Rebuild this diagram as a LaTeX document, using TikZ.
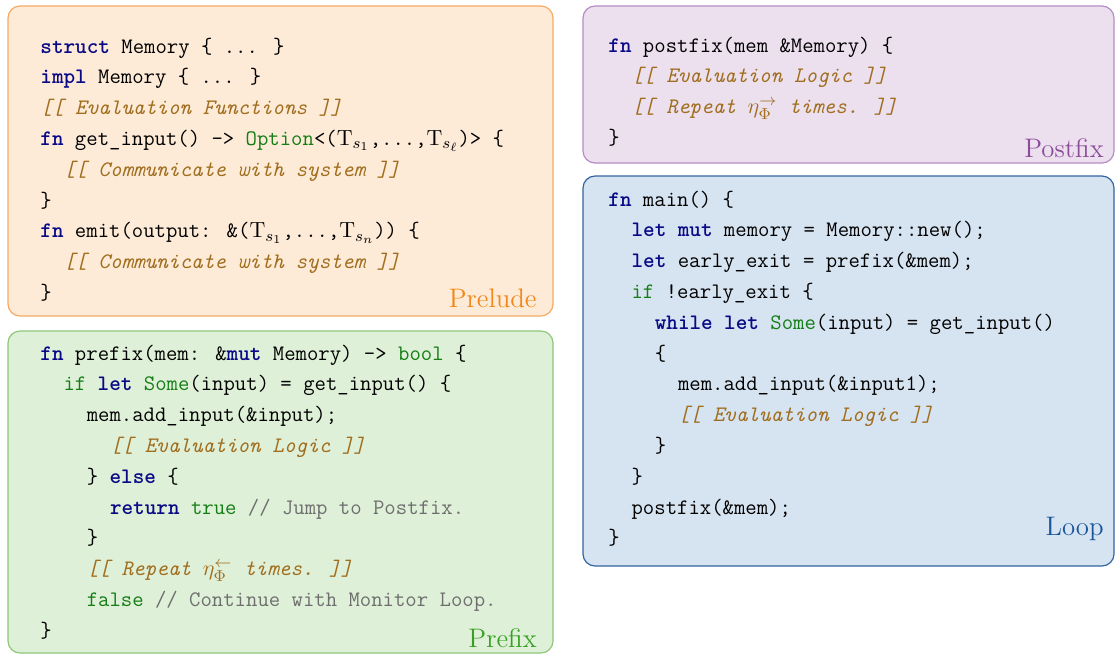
\documentclass[tikz,border=0pt]{standalone}
\usepackage{xcolor}
\definecolor{kwc}{RGB}{10,10,135}
\definecolor{grc}{RGB}{20,125,20}
\definecolor{cmc}{RGB}{110,110,110}
\definecolor{phc}{RGB}{160,110,30}
\definecolor{prelab}{RGB}{242,135,25}
\definecolor{prebd}{RGB}{245,170,100}
\definecolor{prefill}{RGB}{253,235,216}
\definecolor{pfxlab}{RGB}{55,160,35}
\definecolor{pfxbd}{RGB}{140,200,120}
\definecolor{pfxfill}{RGB}{223,240,216}
\definecolor{poslab}{RGB}{140,75,155}
\definecolor{posbd}{RGB}{180,140,195}
\definecolor{posfill}{RGB}{236,224,239}
\definecolor{looplab}{RGB}{25,85,155}
\definecolor{loopbd}{RGB}{50,100,160}
\definecolor{loopfill}{RGB}{214,227,240}
\newcommand\kw[1]{{\bfseries\color{kwc}#1}}
\newcommand\gr[1]{{\color{grc}#1}}
\newcommand\cmt[1]{{\color{cmc}#1}}
\newcommand\ph[1]{{\itshape\color{phc}#1}}
\newcommand\ind[1]{\hspace*{#1\dimexpr0.525em\relax}}
\begin{document}
\begin{tikzpicture}[x=0.5pt,y=-0.5pt,
  box/.style n args={2}{draw=#1, fill=#2, rounded corners=6pt, line width=0.6pt,
    anchor=north west, inner sep=0pt, outer sep=0pt},
  code/.style={anchor=base west, inner sep=0pt, font=\ttfamily\fontsize{11.05}{15.4}\selectfont},
  lab/.style={anchor=base east, inner sep=0pt, font=\fontsize{13.4}{16}\selectfont}]
\useasboundingbox (0,0) rectangle (1117,655);

\node[box={prebd}{prefill}, minimum width=272.5pt, minimum height=155pt] (prelude) at (8,6) {};
\node[box={pfxbd}{pfxfill}, minimum width=272.5pt, minimum height=161pt] (prefix) at (8,331) {};
\node[box={posbd}{posfill}, minimum width=265.5pt, minimum height=78.5pt] (postfix) at (583,6) {};
\node[box={loopbd}{loopfill}, minimum width=265.5pt, minimum height=195pt] (loop) at (583,176) {};

\node[code] (preludecode) at (40,53) {\begin{tabular}[t]{@{}l@{}}
\kw{struct} Memory \{ ... \}\\
\kw{impl} Memory \{ ... \}\\
\ph{[[ Evaluation Functions ]]}\\
\kw{fn} get\_input() -> \gr{Option}<($\mathrm{T}_{s_1}$,...,$\mathrm{T}_{s_\ell}$)> \{\\
\ind{2}\ph{[[ Communicate with system ]]}\\
\}\\
\kw{fn} emit(output: \&($\mathrm{T}_{s_1}$,...,$\mathrm{T}_{s_n}$)) \{\\
\ind{2}\ph{[[ Communicate with system ]]}\\
\}
\end{tabular}};

\node[code] (prefixcode) at (40,360) {\begin{tabular}[t]{@{}l@{}}
\kw{fn} prefix(mem: \&\kw{mut} Memory) -> \gr{bool} \{\\
\ind{2}\gr{if} \kw{let} \gr{Some}(input) = get\_input() \{\\
\ind{4}mem.add\_input(\&input);\\
\ind{6}\ph{[[ Evaluation Logic ]]}\\
\ind{4}\} \kw{else} \{\\
\ind{6}\kw{return} \gr{true} \cmt{// Jump to Postfix.}\\
\ind{4}\}\\
\ind{4}\ph{[[ Repeat $\eta^{\leftarrow}_{\Phi}$ times. ]]}\\
\ind{4}\gr{false} \cmt{// Continue with Monitor Loop.}\\
\}
\end{tabular}};

\node[code] (postfixcode) at (608,52) {\begin{tabular}[t]{@{}l@{}}
\kw{fn} postfix(mem \&Memory) \{\\
\ind{2}\ph{[[ Evaluation Logic ]]}\\
\ind{2}\ph{[[ Repeat $\eta^{\rightarrow}_{\Phi}$ times. ]]}\\
\}
\end{tabular}};

\node[code] (loopcode) at (608,206) {\begin{tabular}[t]{@{}l@{}}
\kw{fn} main() \{\\
\ind{2}\kw{let} \kw{mut} memory = Memory::new();\\
\ind{2}\kw{let} early\_exit = prefix(\&mem);\\
\ind{2}\gr{if} !early\_exit \{\\
\ind{4}\kw{while} \kw{let} \gr{Some}(input) = get\_input()\\
\ind{4}\{\\
\ind{6}mem.add\_input(\&input1);\\
\ind{6}\ph{[[ Evaluation Logic ]]}\\
\ind{4}\}\\
\ind{2}\}\\
\ind{2}postfix(\&mem);\\
\}
\end{tabular}};

\node[lab, text=prelab] (preludelabel) at (537,307) {Prelude};
\node[lab, text=pfxlab] (prefixlabel) at (537,647) {Prefix};
\node[lab, text=poslab] (postfixlabel) at (1104,157) {Postfix};
\node[lab, text=looplab] (looplabel) at (1104,535) {Loop};
\end{tikzpicture}
\end{document}
